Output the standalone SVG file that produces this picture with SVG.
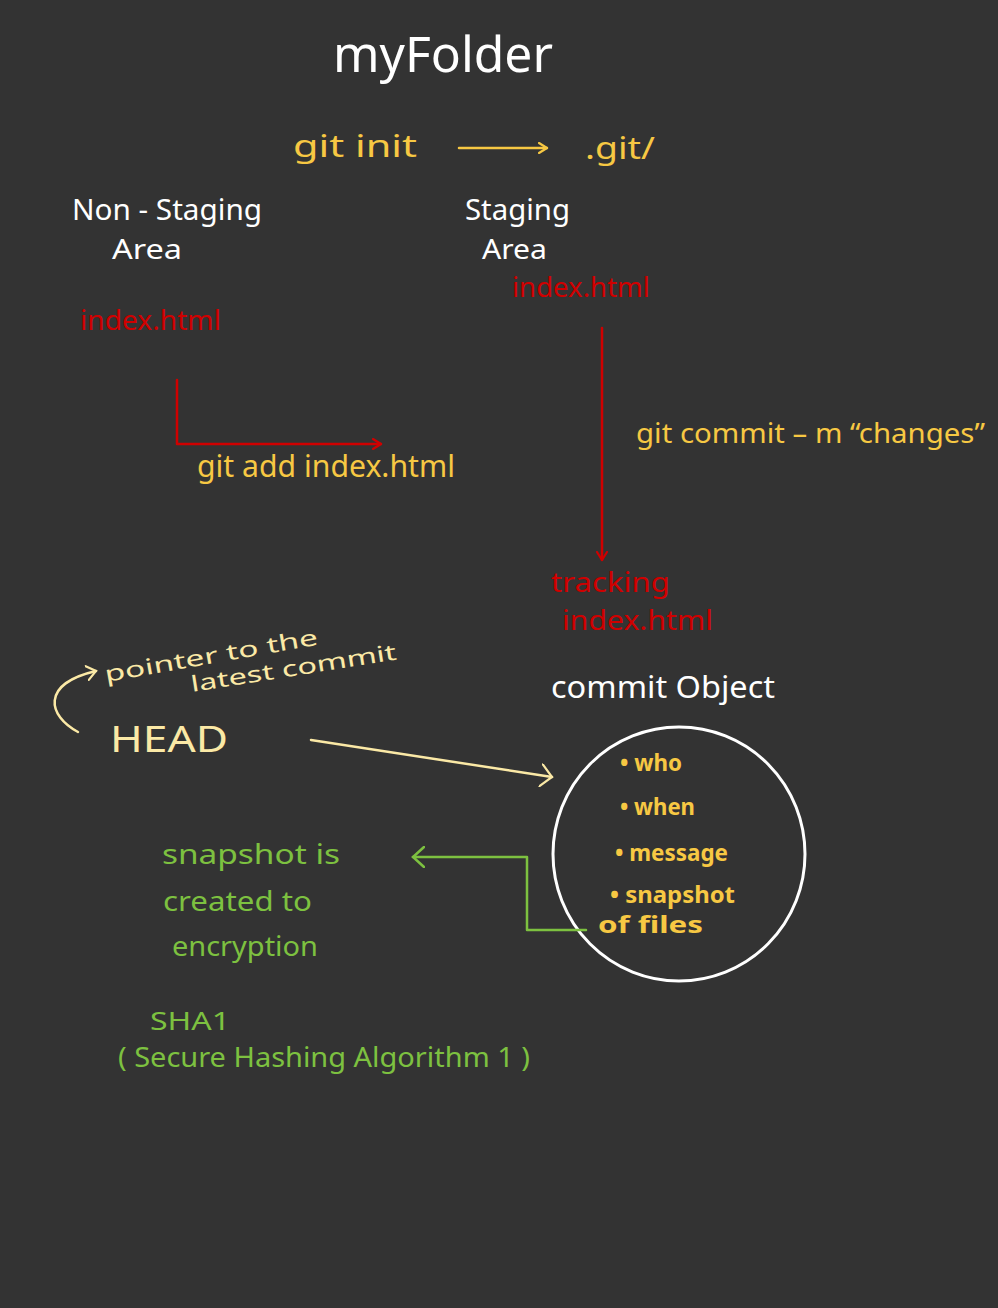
<svg xmlns="http://www.w3.org/2000/svg" width="998" height="1308" viewBox="0 0 998 1308">
<style>
text{font-family:"Noto Sans","Open Sans",sans-serif;}
.w{fill:#ffffff;}
.y{fill:#f7c843;}
.r{fill:#d00000;}
.c{fill:#fbe9a6;}
.g{fill:#7dc140;}
.ln{fill:none;stroke-width:2.5;stroke-linecap:round;stroke-linejoin:round;}
</style>
<defs>
<marker id="ar" viewBox="0 0 10 12" refX="9" refY="6" markerWidth="10" markerHeight="12" markerUnits="userSpaceOnUse" orient="auto"><path d="M1,1 L9,6 L1,11" fill="none" stroke="#d00000" stroke-width="2.2" stroke-linecap="round"/></marker>
<marker id="ay" viewBox="0 0 10 12" refX="9" refY="6" markerWidth="10" markerHeight="12" markerUnits="userSpaceOnUse" orient="auto"><path d="M1,1 L9,6 L1,11" fill="none" stroke="#f7c843" stroke-width="2.2" stroke-linecap="round"/></marker>
<marker id="ac" viewBox="0 0 14 24" refX="12" refY="12" markerWidth="14" markerHeight="24" markerUnits="userSpaceOnUse" orient="auto"><path d="M1,1 L12,12 L1,23" fill="none" stroke="#fbe9a6" stroke-width="2.2" stroke-linecap="round"/></marker>
<marker id="ac2" viewBox="0 0 12 16" refX="10" refY="8" markerWidth="12" markerHeight="16" markerUnits="userSpaceOnUse" orient="auto"><path d="M1,1 L10,8 L1,15" fill="none" stroke="#fbe9a6" stroke-width="2.2" stroke-linecap="round"/></marker>
<marker id="ag" viewBox="0 0 14 22" refX="12" refY="11" markerWidth="14" markerHeight="22" markerUnits="userSpaceOnUse" orient="auto"><path d="M1,1 L12,11 L1,21" fill="none" stroke="#7dc140" stroke-width="2.5" stroke-linecap="round"/></marker>
</defs>
<rect x="0" y="0" width="998" height="1308" fill="#333333"/>

<g id="title"><text class="w" x="333" y="72" font-size="50" textLength="220" lengthAdjust="spacingAndGlyphs">myFolder</text></g>
<g id="git-init"><text class="y" x="293" y="157" font-size="30" textLength="124" lengthAdjust="spacingAndGlyphs">git  init</text></g>
<g id="dot-git"><text class="y" x="585" y="159" font-size="30" textLength="70" lengthAdjust="spacingAndGlyphs">.git/</text></g>
<g id="non-staging">
<text class="w" x="72" y="220" font-size="29" textLength="190" lengthAdjust="spacingAndGlyphs">Non - Staging</text>
<text class="w" x="112" y="259" font-size="28" textLength="70" lengthAdjust="spacingAndGlyphs">Area</text>
<text class="r" x="80" y="330" font-size="28" textLength="141" lengthAdjust="spacingAndGlyphs">index.html</text>
</g>
<g id="staging">
<text class="w" x="465" y="220" font-size="29" textLength="105" lengthAdjust="spacingAndGlyphs">Staging</text>
<text class="w" x="482" y="259" font-size="28" textLength="65" lengthAdjust="spacingAndGlyphs">Area</text>
<text class="r" x="512" y="297" font-size="28" textLength="138" lengthAdjust="spacingAndGlyphs">index.html</text>
</g>
<g id="git-add"><text class="y" x="197" y="477" font-size="30" textLength="258" lengthAdjust="spacingAndGlyphs">git add  index.html</text></g>
<g id="git-commit"><text class="y" x="636" y="443" font-size="28" textLength="349" lengthAdjust="spacingAndGlyphs">git commit   – m “changes”</text></g>
<g id="tracking">
<text class="r" x="551" y="592" font-size="28" textLength="119" lengthAdjust="spacingAndGlyphs">tracking</text>
<text class="r" x="562" y="630" font-size="28" textLength="151" lengthAdjust="spacingAndGlyphs">index.html</text>
</g>
<g id="pointer-note">
<text class="c" font-size="22" transform="translate(106,682) rotate(-10)" textLength="216" lengthAdjust="spacingAndGlyphs">pointer to the</text>
<text class="c" font-size="22" transform="translate(192,692) rotate(-9)" textLength="208" lengthAdjust="spacingAndGlyphs">latest   commit</text>
</g>
<g id="head"><text class="c" x="110" y="752" font-size="36" textLength="118" lengthAdjust="spacingAndGlyphs">HEAD</text></g>
<g id="commit-object">
<text class="w" x="551" y="698" font-size="30" textLength="224" lengthAdjust="spacingAndGlyphs">commit  Object</text>
<ellipse cx="679" cy="854" rx="126" ry="127" fill="none" stroke="#ffffff" stroke-width="3"/>
<g font-size="23" font-weight="bold">
<text class="y" x="620" y="771" textLength="62" lengthAdjust="spacingAndGlyphs">• who</text>
<text class="y" x="620" y="815" textLength="75" lengthAdjust="spacingAndGlyphs">• when</text>
<text class="y" x="615" y="861" textLength="113" lengthAdjust="spacingAndGlyphs">• message</text>
<text class="y" x="610" y="903" textLength="125" lengthAdjust="spacingAndGlyphs">• snapshot</text>
<text class="y" x="598" y="933" textLength="105" lengthAdjust="spacingAndGlyphs">of files</text>
</g>
</g>
<g id="snapshot-note">
<text class="g" x="162" y="864" font-size="28" textLength="178" lengthAdjust="spacingAndGlyphs">snapshot   is</text>
<text class="g" x="163" y="911" font-size="28" textLength="149" lengthAdjust="spacingAndGlyphs">created  to</text>
<text class="g" x="172" y="956" font-size="28" textLength="146" lengthAdjust="spacingAndGlyphs">encryption</text>
</g>
<g id="sha1">
<text class="g" x="150" y="1030" font-size="26" textLength="80" lengthAdjust="spacingAndGlyphs">SHA1</text>
<text class="g" x="118" y="1067" font-size="28" textLength="412" lengthAdjust="spacingAndGlyphs">( Secure  Hashing  Algorithm 1 )</text>
</g>

<g id="connectors">
<path class="ln" d="M459,148 L547,148" stroke="#f7c843" marker-end="url(#ay)"/>
<path class="ln" d="M177,380 L177,444 L381,444" stroke="#d00000" marker-end="url(#ar)"/>
<path class="ln" d="M602,328 L602,560" stroke="#d00000" marker-end="url(#ar)"/>
<path class="ln" d="M78,732 C48,716 40,684 96,671" stroke="#fbe9a6" marker-end="url(#ac2)"/>
<path class="ln" d="M311,740 L552,777" stroke="#fbe9a6" marker-end="url(#ac)"/>
<path class="ln" d="M586,930 L527,930 L527,857 L413,857" stroke="#7dc140" marker-end="url(#ag)"/>
</g>
</svg>
